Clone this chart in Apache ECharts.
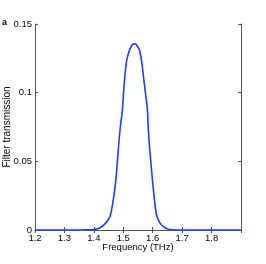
<!DOCTYPE html>
<html><head><meta charset="utf-8">
<script src="https://cdn.jsdelivr.net/npm/echarts@6/dist/echarts.min.js"></script>
<style>html,body{margin:0;padding:0;background:#fff}#c{width:266px;height:264px}</style>
</head><body><div id="c"></div>
<script>
const frequency = [1.2, 1.3, 1.35, 1.38, 1.40, 1.42, 1.44, 1.455, 1.466, 1.475, 1.482, 1.489, 1.497, 1.500, 1.504, 1.512, 1.523, 1.532, 1.540, 1.546, 1.555, 1.563, 1.570, 1.577, 1.582, 1.585, 1.591, 1.598, 1.606, 1.614, 1.625, 1.636, 1.650, 1.669, 1.70, 1.8, 1.9];
const transmission = [0, 0, 0, 0.0001, 0.0004, 0.0015, 0.005, 0.010, 0.022, 0.037, 0.056, 0.073, 0.0875, 0.097, 0.109, 0.124, 0.132, 0.1352, 0.1355, 0.1345, 0.131, 0.1217, 0.109, 0.097, 0.0875, 0.073, 0.056, 0.039, 0.022, 0.010, 0.005, 0.0025, 0.0008, 0.0002, 0, 0, 0];
const xTicks = ['1.2','1.3','1.4','1.5','1.6','1.7','1.8'];
const yTicks = ['0','0.05','0.1','0.15'];

const chart = echarts.init(document.getElementById('c'));
const font = 'Liberation Sans, Arial, sans-serif';
const axisCol = '#555';
const base = {
  axisLine: {show: true, lineStyle: {color: axisCol, width: 1}},
  axisTick: {show: true, inside: true, length: 3, lineStyle: {color: axisCol}},
  splitLine: {show: false}
};
chart.setOption({
  animation: false,
  grid: {left: 35, top: 24, right: 25, bottom: 34, containLabel: false, outerBoundsMode: 'none'},
  xAxis: [
    Object.assign({}, base, {type: 'value', min: 1.2, max: 1.9, interval: 0.1, position: 'bottom',
      name: 'Frequency (THz)', nameLocation: 'middle', nameGap: 12, nameMoveOverlap: false,
      nameTextStyle: {fontFamily: font, fontSize: 9.5, color: '#000'},
      axisLabel: {fontFamily: font, fontSize: 9.5, color: '#000', margin: 3,
        formatter: v => { const s = v.toFixed(1); return xTicks.includes(s) ? s : ''; }}}),
    Object.assign({}, base, {type: 'value', min: 1.2, max: 1.9, interval: 0.1, position: 'top', axisLabel: {show: false}})
  ],
  yAxis: [
    Object.assign({}, base, {type: 'value', min: 0, max: 0.15, interval: 0.05, position: 'left',
      name: 'Filter transmission', nameLocation: 'middle', nameGap: 23, nameMoveOverlap: false,
      nameTextStyle: {fontFamily: font, fontSize: 10, color: '#000'},
      axisLabel: {fontFamily: font, fontSize: 9.5, color: '#000', margin: 3,
        formatter: v => { const s = String(Math.round(v*100)/100); return yTicks.includes(s) ? s : ''; }}}),
    Object.assign({}, base, {type: 'value', min: 0, max: 0.15, interval: 0.05, position: 'right', axisLabel: {show: false}})
  ],
  graphic: [{type: 'text', left: 2, top: 18, style: {text: 'a', font: 'bold 9px ' + font, fill: '#000'}}],
  series: [{
    type: 'line', showSymbol: false, smooth: 0.3,
    data: frequency.map((f, i) => [f, transmission[i]]),
    lineStyle: {color: '#1f3fff', width: 1.6}
  }]
});
</script></body></html>
